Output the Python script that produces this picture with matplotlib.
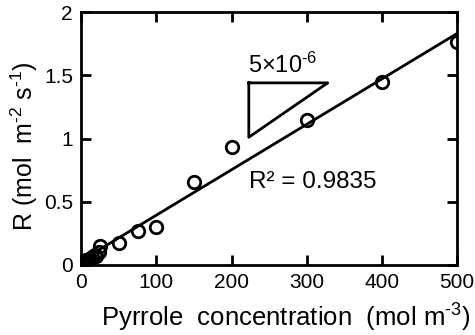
import numpy as np
import matplotlib
matplotlib.use('Agg')
import matplotlib.pyplot as plt

plt.rcParams['font.family'] = ['Liberation Sans', 'DejaVu Sans']
plt.rcParams['mathtext.fontset'] = 'custom'
plt.rcParams['mathtext.rm'] = 'Liberation Sans'
plt.rcParams['mathtext.it'] = 'Liberation Sans:italic'

# rate vs. pyrrole concentration
conc = [1, 2, 3, 4, 5, 6, 8, 10, 12, 15, 18, 20, 23, 25, 50, 75, 100,
        150, 200, 300, 400, 500]
rate = [0.01, 0.02, 0.015, 0.03, 0.02, 0.04, 0.03, 0.04, 0.05, 0.06, 0.08,
        0.07, 0.10, 0.15, 0.17, 0.27, 0.30, 0.66, 0.93, 1.15, 1.45, 1.76]

slope = 0.00359
intercept = 0.035

fig = plt.figure(figsize=(4.75, 3.35), dpi=100)
ax = fig.add_axes([0.171, 0.209, 0.791, 0.755])

xf = np.array([0, 500])
ax.plot(xf, slope*xf + intercept, color='black', lw=2, zorder=2)
ax.plot(conc, rate, 'o', mfc='none', mec='black', mew=2, ms=9, zorder=3)

# slope triangle
tx = [223, 328, 223, 223]
ty = [1.44, 1.44, 1.01, 1.44]
ax.plot(tx, ty, color='black', lw=2)
ax.text(222, 1.52, r'5×10$^{\text{-6}}$', ha='left', va='baseline', fontsize=17)
ax.text(223, 0.61, 'R² = 0.9835', ha='left', va='baseline', fontsize=17.5)

ax.set_xlim(0, 500)
ax.set_ylim(0, 2)
ax.set_xticks([0, 100, 200, 300, 400, 500])
ax.set_yticks([0, 0.5, 1, 1.5, 2])
ax.set_yticklabels(['0', '0.5', '1', '1.5', '2'])
ax.tick_params(direction='in', length=7, width=2, labelsize=15, top=True, right=True, pad=6)
for s in ax.spines.values():
    s.set_linewidth(2)

ax.set_xlabel(r'Pyrrole  concentration  (mol m$^{\text{-3}}$)', fontsize=18.5)
ax.set_ylabel(r'R (mol  m$^{\text{-2}}$ s$^{\text{-1}}$)', fontsize=18)
ax.xaxis.set_label_coords(0.545, -0.145)
ax.yaxis.set_label_coords(-0.11, 0.468)

fig.savefig('out.png', dpi=100)
